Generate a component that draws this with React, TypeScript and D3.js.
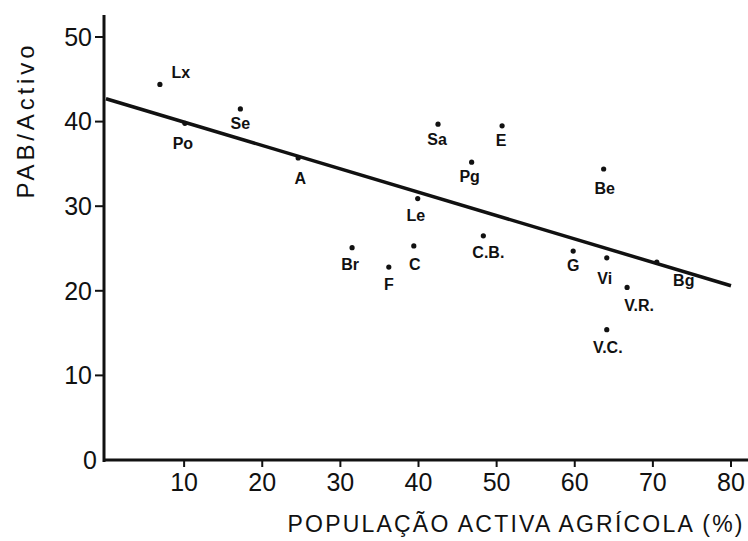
import React from "react";
import * as d3 from "d3";

const labels = ["Lx","Po","Se","A","Br","F","C","Le","Sa","Pg","C.B.","E","G","Be","Vi","V.C.","V.R.","Bg"];
const agricPop = [6.9,10.1,17.2,24.6,31.5,36.2,39.4,39.9,42.5,46.8,48.3,50.7,59.8,63.7,64.1,64.1,66.7,70.5];
const pabActivo = [44.4,39.8,41.5,35.7,25.1,22.8,25.3,30.9,39.7,35.2,26.5,39.5,24.7,34.4,23.9,15.4,20.4,23.4];
const regX = [0, 80];
const regY = [42.7, 20.6];
const xTicks = [10,20,30,40,50,60,70,80];
const yTicks = [10,20,30,40,50];

// label offsets (pixels) relative to each point, layout only
const labelDx = [21,-2,0,2,-2,0,1,-2,-1,-2,5,-1,0,1,-2,1,12,27];
const labelDy = [-12,20,14,20,17,17,18,17,15,14,17,15,14,19,21,18,18,18];

export default function App() {
  const W = 748, H = 541;
  const x = d3.scaleLinear().domain([0, 80]).range([106, 731]);
  const y = d3.scaleLinear().domain([0, 50]).range([460, 37]);
  const axX = 104;
  const line = d3.line<number>().x((d) => x(regX[d])).y((d) => y(regY[d]));
  const font = "'Liberation Sans', 'DejaVu Sans', sans-serif";
  return (
    <svg width={W} height={H} style={{ position: "absolute", left: 0, top: 0, background: "#fff" }}
      fontFamily={font}>
      <rect width={W} height={H} fill="#fff" />
      {/* axes */}
      <line x1={axX} y1={15} x2={axX} y2={462} stroke="#111" strokeWidth={3} />
      <line x1={axX} y1={y(0)} x2={748} y2={y(0)} stroke="#111" strokeWidth={3} />
      {yTicks.map((t) => (
        <g key={"y" + t}>
          <line x1={axX - 9} x2={axX} y1={y(t)} y2={y(t)} stroke="#111" strokeWidth={2} />
          <text x={axX - 12} y={y(t)} dy="0.35em" textAnchor="end" fontSize={25} fill="#111">{t}</text>
        </g>
      ))}
      <text x={axX - 7} y={y(0)} dy="0.35em" textAnchor="end" fontSize={25} fill="#111">0</text>
      {xTicks.map((t) => (
        <g key={"x" + t}>
          <line x1={x(t)} x2={x(t)} y1={y(0)} y2={y(0) + 7} stroke="#111" strokeWidth={2} />
          <text x={x(t)} y={491} textAnchor="middle" fontSize={25} fill="#111">{t}</text>
        </g>
      ))}
      {/* titles */}
      <text x={515} y={532} textAnchor="middle" fontSize={23} fill="#111" textLength={455} lengthAdjust="spacing">
        POPULAÇÃO ACTIVA AGRÍCOLA (%)
      </text>
      <text transform={`translate(34,122) rotate(-90)`} textAnchor="middle" fontSize={24} fill="#111"
        textLength={153} lengthAdjust="spacing">PAB/Activo</text>
      {/* regression line */}
      <path d={line([0, 1]) || ""} stroke="#111" strokeWidth={3.5} fill="none" />
      {/* points */}
      {labels.map((l, i) => (
        <g key={l}>
          <circle cx={x(agricPop[i])} cy={y(pabActivo[i])} r={2.6} fill="#111" />
          <text x={x(agricPop[i]) + labelDx[i]} y={y(pabActivo[i]) + labelDy[i]} dy="0.35em"
            textAnchor="middle" fontSize={16} fontWeight="bold" fill="#111">{l}</text>
        </g>
      ))}
    </svg>
  );
}
